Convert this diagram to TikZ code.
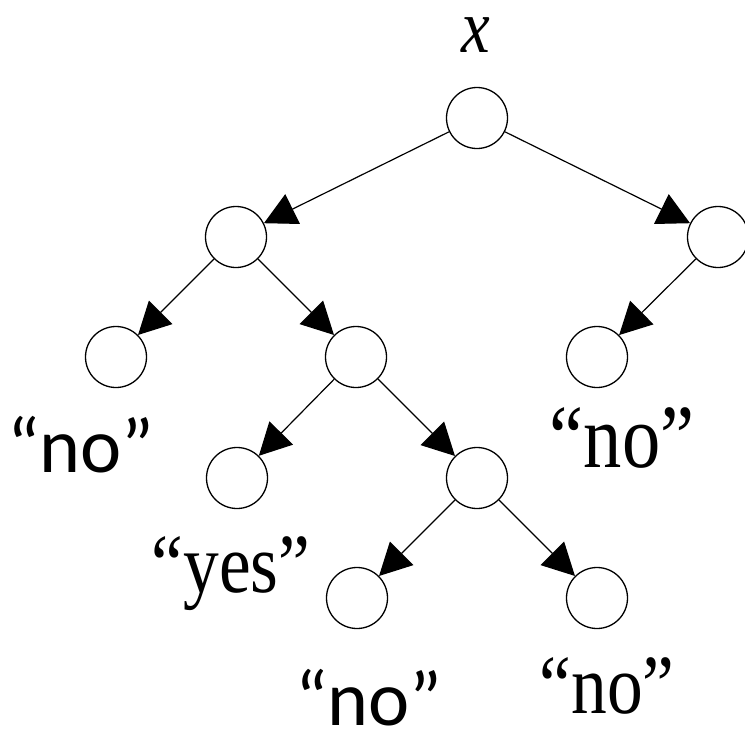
\documentclass[tikz,border=0pt]{standalone}
\usepackage{fontspec}
\usetikzlibrary{arrows.meta}
\newfontfamily\answerfont[FakeStretch=0.85]{Liberation Serif}
\newfontfamily\notefont{Carlito}

\tikzset{
  vertex/.style={circle, draw, line width=1.3pt, minimum size=61pt, inner sep=0pt},
  branch/.style={line width=1.2pt, -{Triangle[length=32pt, width=33pt]}},
  answer/.style={font=\answerfont\fontsize{84}{84}\selectfont, anchor=base, inner sep=0pt, text depth=0pt},
  note/.style={font=\notefont\fontsize{78}{78}\selectfont, anchor=base, inner sep=0pt, text depth=0pt}
}

\begin{document}
\begin{tikzpicture}[x=1pt, y=-1pt]
  \useasboundingbox (0,0) rectangle (745,742);

  % tree
  \node[vertex] (root) at (477,118) {};
  \node[vertex] (l)    at (236,237) {};
  \node[vertex] (r)    at (718,237) {};
  \node[vertex] (ll)   at (116,357) {};
  \node[vertex] (lr)   at (356,357) {};
  \node[vertex] (rl)   at (597,357) {};
  \node[vertex] (lrl)  at (237,478) {};
  \node[vertex] (lrr)  at (477,478) {};
  \node[vertex] (lrrl) at (357,598) {};
  \node[vertex] (lrrr) at (597,598) {};

  \draw[branch] (root) -- (l);
  \draw[branch] (root) -- (r);
  \draw[branch] (l) -- (ll);
  \draw[branch] (l) -- (lr);
  \draw[branch] (r) -- (rl);
  \draw[branch] (lr) -- (lrl);
  \draw[branch] (lr) -- (lrr);
  \draw[branch] (lrr) -- (lrrl);
  \draw[branch] (lrr) -- (lrrr);

  % labels
  \node[answer, font=\answerfont\fontsize{76}{76}\selectfont\itshape, text height=0.5em] (xlab) at (476,52) {x};
  \node[answer, font=\answerfont\fontsize{90}{90}\selectfont] (rllab) at (622,467) {“no”};
  \node[answer] (lrllab) at (231,592) {“yes”};
  \node[answer] (lrrrlab) at (607,713) {“no”};
  \node[note] (lllab) at (81,472) {“no”};
  \node[note, text height=0.65em] (lrrllab) at (369,725) {“no”};
\end{tikzpicture}
\end{document}
